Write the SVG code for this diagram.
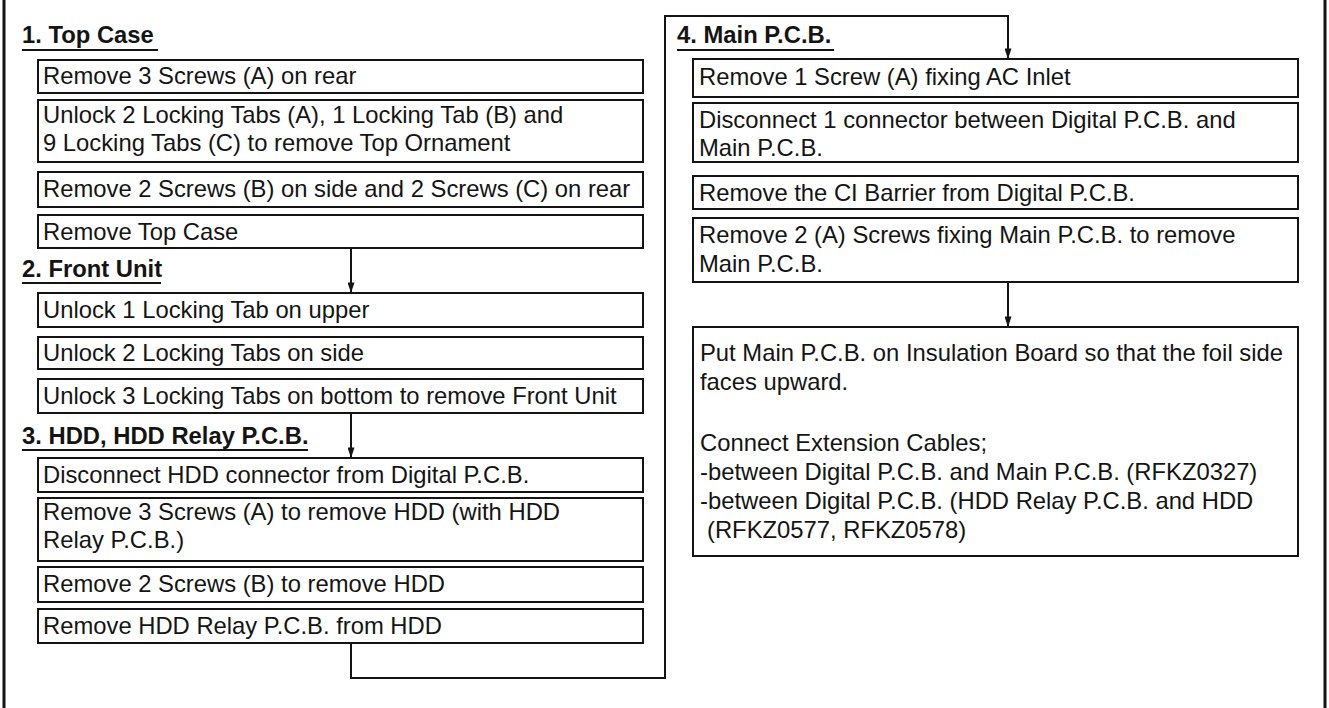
<svg xmlns="http://www.w3.org/2000/svg" width="1329" height="708" viewBox="0 0 1329 708">
<defs>
<style>
.box{fill:#fff;stroke:#141414;stroke-width:2}
.t{font-family:"Liberation Sans",Arial,Helvetica,sans-serif;font-size:23.8px;fill:#141414}
.h{font-family:"Liberation Sans",Arial,Helvetica,sans-serif;font-size:23.8px;font-weight:bold;fill:#141414}
.ul{stroke:#141414;stroke-width:2}
.con{fill:none;stroke:#141414;stroke-width:2}
.frame{stroke:#141414;stroke-width:3}
</style>
<marker id="ah" viewBox="0 0 12 8" refX="12" refY="4" markerWidth="12" markerHeight="7" markerUnits="userSpaceOnUse" orient="auto">
<path d="M0,0 L12,4 L0,8 z" fill="#141414"/>
</marker>
</defs>
<rect x="0" y="0" width="1329" height="708" fill="#fff"/>
<g id="frame">
<line class="frame" x1="4" y1="0" x2="4" y2="708"/>
<line class="frame" x1="1325" y1="0" x2="1325" y2="708"/>
</g>

<g id="connectors">
<line class="con" x1="351" y1="248" x2="351" y2="293" marker-end="url(#ah)"/>
<line class="con" x1="351" y1="413" x2="351" y2="458" marker-end="url(#ah)"/>
<path class="con" d="M351 643 V678 H665 V16 H1008 V59" marker-end="url(#ah)"/>
<line class="con" x1="1008" y1="282" x2="1008" y2="327" marker-end="url(#ah)"/>
</g>

<g id="h1"><text class="h" x="22" y="43">1. Top Case</text><line class="ul" x1="22" y1="50" x2="158" y2="50"/></g>
<g id="n1"><rect class="box" x="38" y="60" width="605" height="33"/><text class="t" x="43" y="84">Remove 3 Screws (A) on rear</text></g>
<g id="n2"><rect class="box" x="38" y="100" width="605" height="62"/><text class="t" x="43" y="123">Unlock 2 Locking Tabs (A), 1 Locking Tab (B) and</text><text class="t" x="43" y="151">9 Locking Tabs (C) to remove Top Ornament</text></g>
<g id="n3"><rect class="box" x="38" y="172" width="605" height="35"/><text class="t" x="43" y="197">Remove 2 Screws (B) on side and 2 Screws (C) on rear</text></g>
<g id="n4"><rect class="box" x="38" y="215" width="605" height="33"/><text class="t" x="43" y="240">Remove Top Case</text></g>

<g id="h2"><text class="h" x="22" y="277">2. Front Unit</text><line class="ul" x1="22" y1="283" x2="161" y2="283"/></g>
<g id="n5"><rect class="box" x="38" y="293" width="605" height="34"/><text class="t" x="43" y="318">Unlock 1 Locking Tab on upper</text></g>
<g id="n6"><rect class="box" x="38" y="337" width="605" height="32"/><text class="t" x="43" y="361">Unlock 2 Locking Tabs on side</text></g>
<g id="n7"><rect class="box" x="38" y="379" width="605" height="34"/><text class="t" x="43" y="404">Unlock 3 Locking Tabs on bottom to remove Front Unit</text></g>

<g id="h3"><text class="h" x="22" y="444">3. HDD, HDD Relay P.C.B.</text><line class="ul" x1="22" y1="450" x2="308" y2="450"/></g>
<g id="n8"><rect class="box" x="38" y="458" width="605" height="34"/><text class="t" x="43" y="483">Disconnect HDD connector from Digital P.C.B.</text></g>
<g id="n9"><rect class="box" x="38" y="498" width="605" height="63"/><text class="t" x="43" y="520">Remove 3 Screws (A) to remove HDD (with HDD</text><text class="t" x="43" y="548">Relay P.C.B.)</text></g>
<g id="n10"><rect class="box" x="38" y="567" width="605" height="35"/><text class="t" x="43" y="592">Remove 2 Screws (B) to remove HDD</text></g>
<g id="n11"><rect class="box" x="38" y="609" width="605" height="34"/><text class="t" x="43" y="634">Remove HDD Relay P.C.B. from HDD</text></g>

<g id="h4"><text class="h" x="677" y="43">4. Main P.C.B.</text><line class="ul" x1="677" y1="50" x2="834" y2="50"/></g>
<g id="r1"><rect class="box" x="693" y="59" width="605" height="38"/><text class="t" x="699" y="85">Remove 1 Screw (A) fixing AC Inlet</text></g>
<g id="r2"><rect class="box" x="693" y="103" width="605" height="59"/><text class="t" x="699" y="128">Disconnect 1 connector between Digital P.C.B. and</text><text class="t" x="699" y="156">Main P.C.B.</text></g>
<g id="r3"><rect class="box" x="693" y="176" width="605" height="33"/><text class="t" x="699" y="201">Remove the CI Barrier from Digital P.C.B.</text></g>
<g id="r4"><rect class="box" x="693" y="218" width="605" height="64"/><text class="t" x="699" y="243">Remove 2 (A) Screws fixing Main P.C.B. to remove</text><text class="t" x="699" y="272">Main P.C.B.</text></g>
<g id="r5"><rect class="box" x="693" y="327" width="605" height="229"/>
<text class="t" x="700" y="361">Put Main P.C.B. on Insulation Board so that the foil side</text>
<text class="t" x="700" y="390">faces upward.</text>
<text class="t" x="700" y="451">Connect Extension Cables;</text>
<text class="t" x="700" y="480">-between Digital P.C.B. and Main P.C.B. (RFKZ0327)</text>
<text class="t" x="700" y="509">-between Digital P.C.B. (HDD Relay P.C.B. and HDD</text>
<text class="t" x="707" y="538">(RFKZ0577, RFKZ0578)</text>
</g>
</svg>
